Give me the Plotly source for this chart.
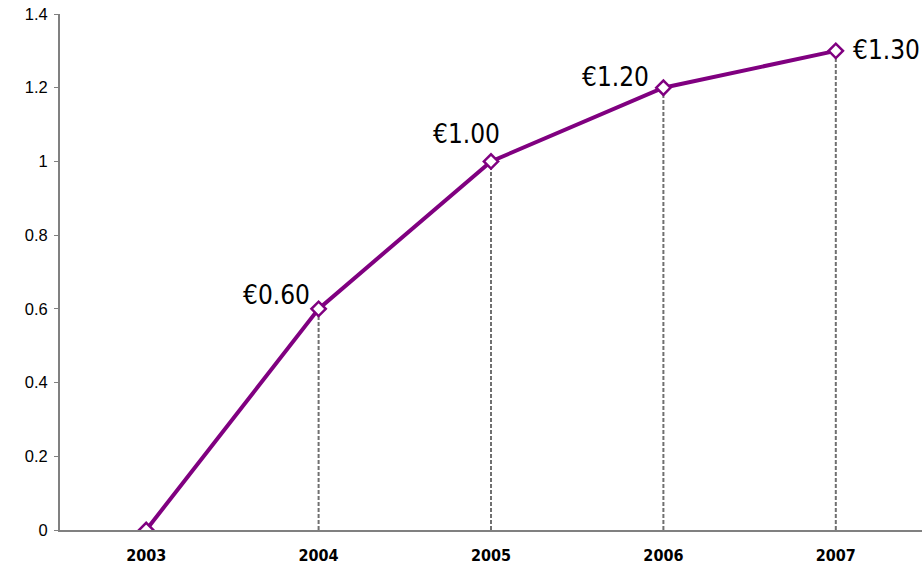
import plotly.graph_objects as go

# Dividend per share by year
years = ["2003", "2004", "2005", "2006", "2007"]
dividend = [0.0, 0.60, 1.00, 1.20, 1.30]
value_labels = ["", "€0.60", "€1.00", "€1.20", "€1.30"]

PURPLE = "#800080"
LABEL_FONT = "Liberation Sans Narrow, DejaVu Sans Condensed, Arial Narrow, sans-serif"

fig = go.Figure()

# Dashed drop lines from each point down to the axis (category index positions)
for i, v in enumerate(dividend):
    if v > 0:
        fig.add_shape(type="line", xref="x", yref="y", x0=i, x1=i, y0=0, y1=v,
                      line=dict(color="#707070", width=2, dash="4px,2px"), layer="below")

fig.add_trace(go.Scatter(
    x=years, y=dividend, mode="lines+markers",
    line=dict(color=PURPLE, width=4),
    marker=dict(symbol="diamond", size=11, color="white",
                line=dict(color=PURPLE, width=2.5)),
    hoverinfo="skip", showlegend=False,
))

# Label placement per point: (xanchor, yanchor, xshift, yshift)
placement = [None, ("right", "bottom", -7, -3), ("right", "bottom", 11, 10),
             ("right", "bottom", -12, -6), ("left", "middle", 15, 1)]
for i, (v, txt, pl) in enumerate(zip(dividend, value_labels, placement)):
    if not txt:
        continue
    xa, ya, xs, ys = pl
    fig.add_annotation(x=i, y=v, xref="x", yref="y", text=txt, showarrow=False,
                       xanchor=xa, yanchor=ya, xshift=xs, yshift=ys,
                       font=dict(family=LABEL_FONT, size=26, color="black"))

fig.update_layout(
    width=922, height=567,
    margin=dict(l=60, r=0, t=14, b=37),
    paper_bgcolor="white", plot_bgcolor="white",
    xaxis=dict(type="category", range=[-0.5, 4.5], showgrid=False, zeroline=False,
               showline=True, linecolor="#808080", linewidth=2, ticks="",
               ticklabelstandoff=10,
               tickfont=dict(family=LABEL_FONT, size=16, color="black", weight="bold")),
    yaxis=dict(range=[0, 1.4], dtick=0.2, showgrid=False, zeroline=False,
               showline=True, linecolor="#808080", linewidth=2,
               ticks="outside", ticklen=4, tickcolor="#808080",
               tickformat="~g", ticklabelstandoff=3,
               tickfont=dict(family="Arial, Liberation Sans, sans-serif", size=16.5, color="black")),
)

fig.write_html("out.html")
